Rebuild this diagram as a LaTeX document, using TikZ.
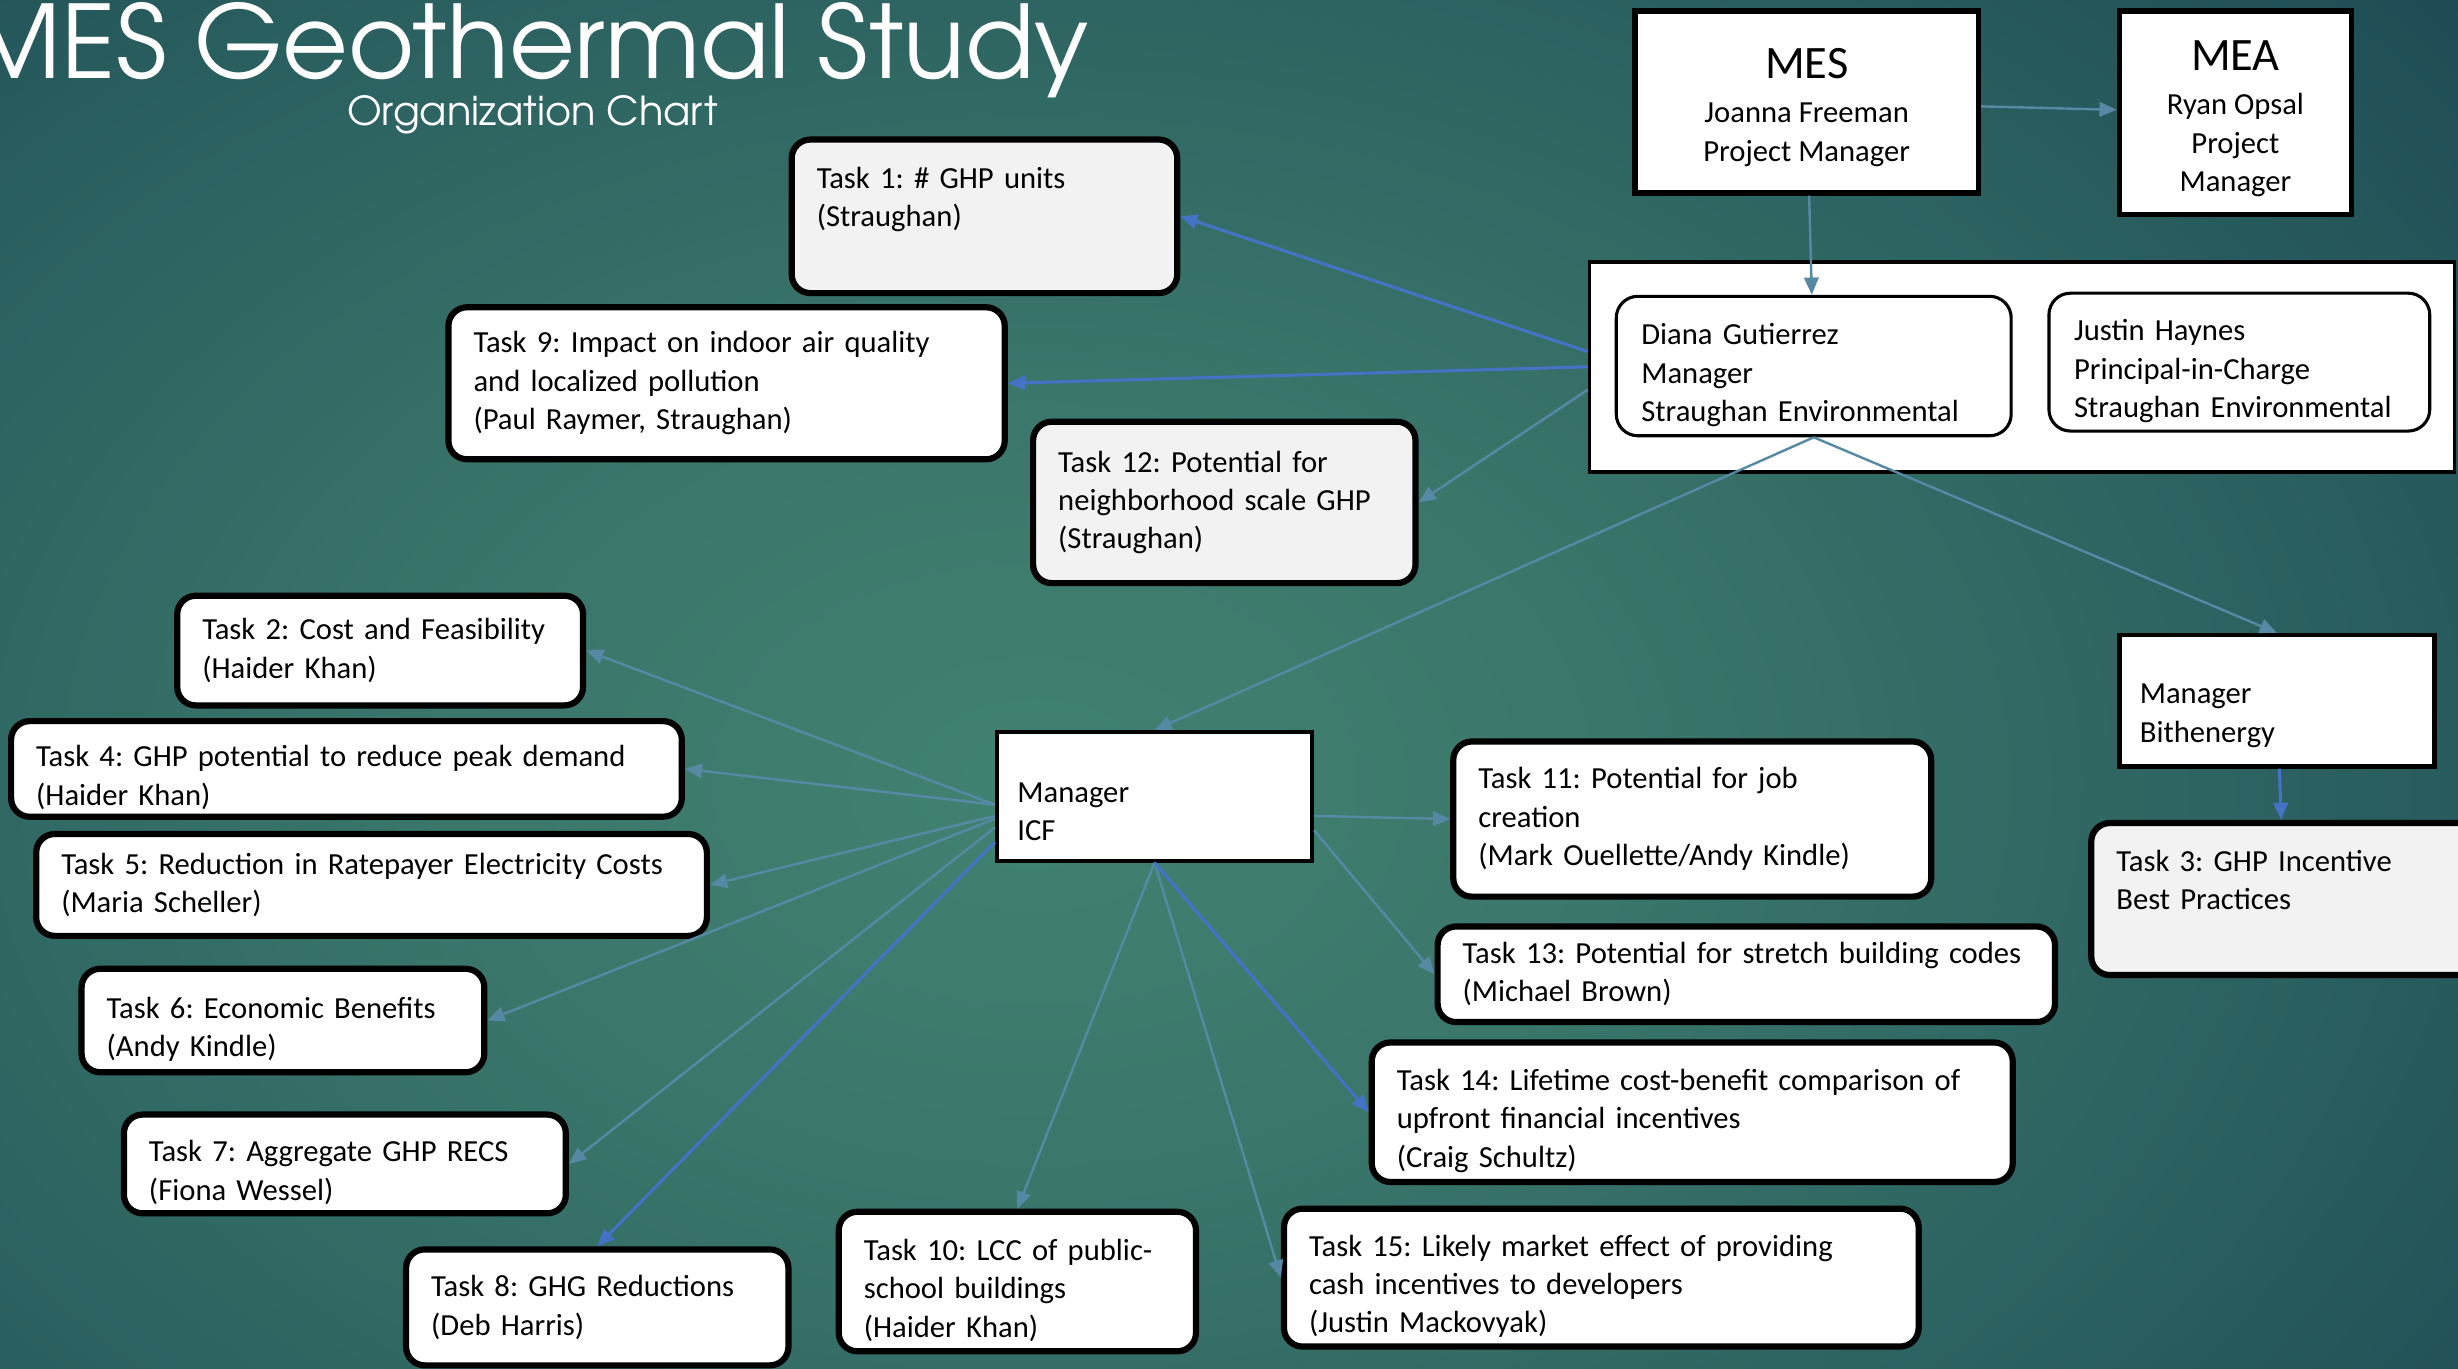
\documentclass[tikz,border=0pt]{standalone}
\usepackage{fontspec}
\setmainfont{Carlito}
\newfontfamily\headfont{TeX Gyre Adventor}
\frenchspacing
\usetikzlibrary{arrows.meta}
\definecolor{lnkc}{RGB}{86,137,163}
\definecolor{bluc}{RGB}{68,114,196}
\definecolor{boxgray}{RGB}{242,242,242}
\definecolor{bgA}{RGB}{66,130,114}
\definecolor{bgB}{RGB}{58,118,106}
\definecolor{bgC}{RGB}{42,95,95}
\definecolor{bgD}{RGB}{27,71,82}
\definecolor{bgE}{RGB}{16,50,64}
\pgfdeclareradialshading{bgglow}{\pgfpoint{0bp}{0bp}}{color(0bp)=(bgA); color(10bp)=(bgB); color(22bp)=(bgC); color(33bp)=(bgD); color(43bp)=(bgE); color(50bp)=(bgE)}

\begin{document}
\begin{tikzpicture}
		[x=0.016cm,y=-0.016cm]
		\tikzstyle{every node}=[font=\fontsize{8.9}{11.15}\selectfont]
		\tikzstyle{task}=[draw=black, line width=1.8pt, rounded corners=0.19cm, fill=white,
		align=left, inner xsep=0.256cm, inner ysep=0pt]
		\tikzstyle{gtask}=[task, fill=boxgray]
		\tikzstyle{lowtext}=[execute at begin node={\rule{0pt}{11.2pt}}]
		\tikzstyle{mgr}=[draw=black, line width=1.2pt, fill=white, align=left,
		inner xsep=0.208cm, inner ysep=0pt, execute at begin node={\rule{0pt}{14.5pt}}]
		\tikzstyle{lead}=[draw=black, line width=1.6pt, fill=white, align=center, inner sep=0pt]
		\tikzstyle{person}=[draw=black, line width=0.9pt, rounded corners=0.22cm, fill=white,
		align=left, inner xsep=0.256cm, inner ysep=0pt, execute at begin node={\rule{0pt}{11.5pt}}]
		\tikzstyle{lnk}=[draw=lnkc, line width=0.7pt, -{Triangle[length=5pt,width=4.2pt]}]
		\tikzstyle{blnk}=[lnk, draw=bluc, line width=0.9pt]
		%-----background
		\useasboundingbox (0,0) rectangle (1568,873);
		\begin{scope}
		\clip (0,0) rectangle (1568,873);
		\shade[shading=bgglow] (-290,-150) rectangle (1610,1150);
		\end{scope}
		%-----title
		\node[font=\headfont\fontsize{29.4}{32}\selectfont, text=white, anchor=base east, inner sep=0pt] (title) at (695,50) {MES Geothermal Study};
		\node[font=\headfont\fontsize{11.6}{14}\selectfont, text=white, anchor=base west, inner sep=0pt] (subtitle) at (221,80) {Organization Chart};
		%-----leads
		\node[lead, minimum width=3.504cm, minimum height=1.856cm] (MES) at (1152.5,65) {\rule{0pt}{12pt}{\fontsize{13.5}{16}\selectfont MES}\\[1.7pt] Joanna Freeman\\Project Manager};
		\node[lead, minimum width=2.368cm, minimum height=2.08cm] (MEA) at (1426,72) {\rule{0pt}{12pt}{\fontsize{13.5}{16}\selectfont MEA}\\[1.7pt] Ryan Opsal\\Project\\Manager};
		\node[draw=black, line width=1pt, fill=white, minimum width=8.832cm, minimum height=2.144cm, inner sep=0pt] (S) at (1290,234) {};
		\node[person, minimum height=1.424cm, text width=3.52cm] (D) at (1157,233.5) {Diana Gutierrez\\Manager\\Straughan Environmental};
		\node[person, minimum height=1.408cm, text width=3.376cm] (J) at (1428.5,231) {Justin Haynes\\Principal-in-Charge\\Straughan Environmental};
		%-----tasks
		\node[gtask, minimum height=1.568cm, text width=3.424cm] (T1) at (628,138) {Task 1: \# GHP units\\(Straughan)\\\mbox{}};
		\node[task, minimum height=1.552cm, text width=5.168cm] (T9) at (463.5,244.5) {Task 9: Impact on indoor air quality\\and localized pollution\\(Paul Raymer, Straughan)};
		\node[gtask, minimum height=1.648cm, text width=3.392cm] (T12) at (781,320.5) {Task 12: Potential for\\neighborhood scale GHP\\(Straughan)};
		\node[task, minimum height=1.12cm, text width=3.632cm] (T2) at (242.5,415) {Task 2: Cost and Feasibility\\(Haider Khan)};
		\node[task, lowtext, minimum height=0.976cm, text width=6.336cm] (T4) at (221,490.5) {Task 4: GHP potential to reduce peak demand\\(Haider Khan)};
		\node[task, minimum height=1.04cm, text width=6.336cm] (T5) at (237,564.5) {Task 5: Reduction in Ratepayer Electricity Costs\\(Maria Scheller)};
		\node[task, lowtext, minimum height=1.056cm, text width=3.6cm] (T6) at (180.5,651) {Task 6: Economic Benefits\\(Andy Kindle)};
		\node[task, lowtext, minimum height=1.008cm, text width=4.0cm] (T7) at (220,742.5) {Task 7: Aggregate GHP RECS\\(Fiona Wessel)};
		\node[task, minimum height=1.184cm, text width=3.392cm] (T8) at (381,834) {Task 8: GHG Reductions\\(Deb Harris)};
		\node[task, lowtext, minimum height=1.424cm, text width=3.136cm] (T10) at (649,817.5) {Task 10: LCC of public-\\school buildings\\(Haider Khan)};
		\node[mgr, minimum height=1.312cm, text width=2.8cm] (ICF) at (736.5,508) {Manager\\ICF};
		\node[task, minimum height=1.584cm, text width=4.368cm] (T11) at (1079.5,522.5) {Task 11: Potential for job\\creation\\(Mark Ouellette/Andy Kindle)};
		\node[task, minimum height=0.976cm, text width=5.792cm] (T13) at (1114,621.5) {Task 13: Potential for stretch building codes\\(Michael Brown)};
		\node[task, lowtext, minimum height=1.424cm, text width=6.032cm] (T14) at (1079.5,709.5) {Task 14: Lifetime cost-benefit comparison of\\upfront financial incentives\\(Craig Schultz)};
		\node[task, lowtext, minimum height=1.408cm, text width=5.968cm] (T15) at (1021.5,815) {Task 15: Likely market effect of providing\\cash incentives to developers\\(Justin Mackovyak)};
		\node[mgr, minimum height=1.344cm, text width=2.8cm] (BTH) at (1452.5,447) {Manager\\Bithenergy};
		\node[gtask, minimum height=1.552cm, text width=3.424cm] (T3) at (1457,573.5) {Task 3: GHP Incentive\\Best Practices\\\mbox{}};
		
		\foreach \from/\to in {MES/MEA,MES/D,S.183/T12.east,D.south/ICF.north,D.south/BTH.north,ICF.183/T2.east,ICF.183/T4.east,ICF.187/T5.east,ICF.188/T6.east,ICF.191/T7.east,ICF.south/T10.north,ICF.south/T15.west,ICF.353/T11.west,ICF.348/T13.west}
		\draw[lnk] (\from) -- (\to);
		\foreach \from/\to in {S.178/T1.east,S.west/T9.east,ICF.196/T8.north,ICF.south/T14.west,BTH/T3}
		\draw[blnk] (\from) -- (\to);
		
\end{tikzpicture}
\end{document}
